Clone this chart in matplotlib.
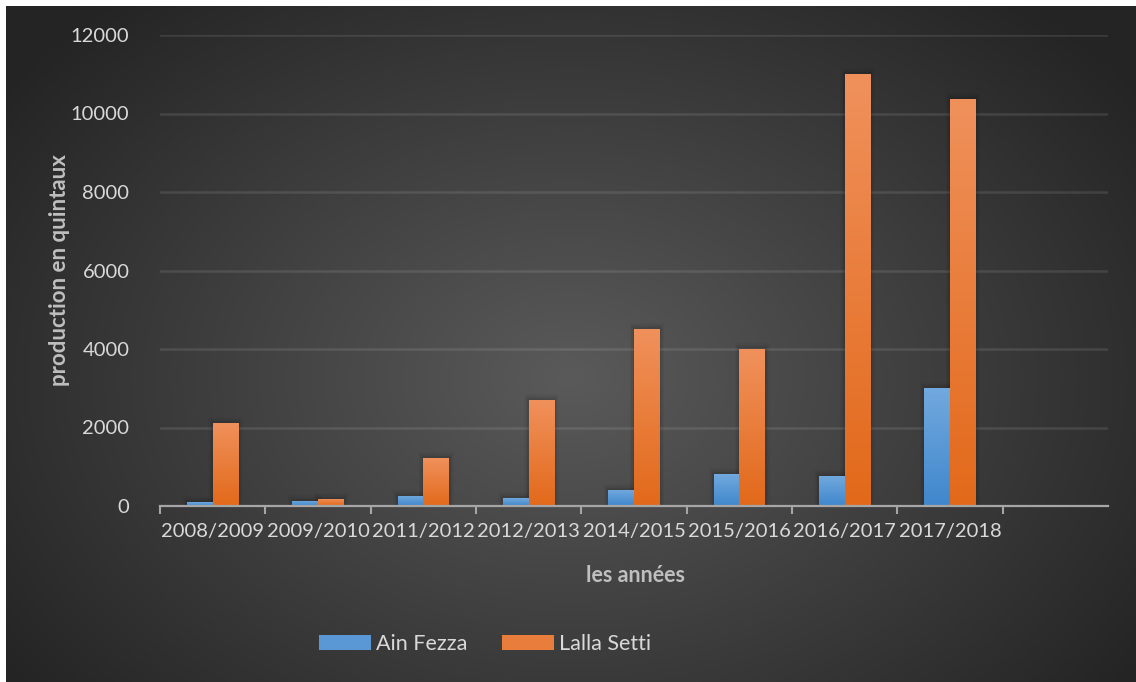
import matplotlib
matplotlib.use('Agg')
import matplotlib.pyplot as plt
import numpy as np
from matplotlib.colors import LinearSegmentedColormap
from matplotlib.patches import Rectangle

plt.rcParams['font.family'] = ['Lato', 'DejaVu Sans']

years = ['2008/2009', '2009/2010', '2011/2012', '2012/2013', '2014/2015',
         '2015/2016', '2016/2017', '2017/2018']
ain_fezza = [100, 130, 255, 200, 410, 815, 765, 3000]
lalla_setti = [2120, 180, 1220, 2700, 4510, 4000, 11000, 10370]
series_names = ['Ain Fezza', 'Lalla Setti']
yticks = [0, 2000, 4000, 6000, 8000, 10000, 12000]

W, H = 1136, 682
fig = plt.figure(figsize=(W / 100, H / 100), dpi=100, facecolor='white')

# radial-ish dark background
bg = fig.add_axes([6 / W, 0, 1 - 6 / W, 1 - 6 / H])
bg.set_axis_off()
yy, xx = np.mgrid[0:1:300j, 0:1:500j]
r = np.sqrt(((xx - 0.5) / 0.62) ** 2 + ((yy - 0.55) / 0.75) ** 2)
shade = np.clip(1 - r, 0, 1)
bg_cmap = LinearSegmentedColormap.from_list('bg', ['#242424', '#5a5a5a'])
bg.imshow(shade, cmap=bg_cmap, aspect='auto', extent=[0, 1, 0, 1],
          vmin=0, vmax=1, interpolation='bilinear')
bg.set_xlim(0, 1)
bg.set_ylim(0, 1)

ax = fig.add_axes([160 / W, 1 - 506 / H, (1108 - 160) / W, (506 - 35) / H])
ax.patch.set_alpha(0)

blue_cm = LinearSegmentedColormap.from_list('b', ['#3f87cc', '#72a9de'])
orange_cm = LinearSegmentedColormap.from_list('o', ['#e2691a', '#f0915c'])
grad = np.linspace(0, 1, 256).reshape(-1, 1)

w = 0.245
x = np.arange(len(years))
for vals, off, cm, name in [(ain_fezza, -w / 2, blue_cm, series_names[0]),
                            (lalla_setti, w / 2, orange_cm, series_names[1])]:
    bars = ax.bar(x + off, vals, width=w, color=cm(0.6), label=name, zorder=3)
    for b in bars:
        bx, by = b.get_x(), b.get_height()
        # soft shadow
        for k, a in enumerate([0.08, 0.05, 0.03]):
            d = 0.014 * (k + 1)
            ax.add_patch(Rectangle((bx - d, 0), w + 2 * d, by + 50 * (k + 1),
                                   facecolor='black', alpha=a, lw=0, zorder=2))
        im = ax.imshow(grad, cmap=cm, origin='lower', aspect='auto',
                       extent=[bx, bx + w, 0, by], zorder=3.5)
        im.set_clip_path(b)
ax.set_xlim(-0.5, 8.5)
ax.set_ylim(0, 12000)

ax.set_yticks(yticks)
ax.set_yticklabels([str(v) for v in yticks])
ax.yaxis.grid(True, color='white', alpha=0.1, lw=1.8, zorder=0)
ax.set_axisbelow(True)

ax.set_xticks(np.arange(9) - 0.5, minor=False)
ax.set_xticklabels([])
ax.set_xticks(x, minor=True)
ax.set_xticklabels(years, minor=True)
ax.tick_params(axis='x', which='major', length=6, width=1.5, color='#a6a6a6',
               direction='out')
ax.tick_params(axis='x', which='minor', length=0, pad=12, labelsize=14.5,
               labelcolor='#d9d9d9')
ax.tick_params(axis='y', length=0, pad=22, labelsize=14.5, labelcolor='#d9d9d9')

for s in ['top', 'right', 'left']:
    ax.spines[s].set_visible(False)
ax.spines['bottom'].set_color('#a6a6a6')
ax.spines['bottom'].set_linewidth(1.6)
ax.spines['bottom'].set_zorder(5)

fig.text(60 / W, 1 - 270 / H, 'production en quintaux', rotation=90,
         ha='center', va='center', fontsize=16, fontweight='bold', color='#bfbfbf')
fig.text(635 / W, 1 - 576 / H, 'les années', ha='center', va='center',
         fontsize=15.5, fontweight='bold', color='#bfbfbf')

handles = [Rectangle((0, 0), 1, 1, facecolor=blue_cm(0.5)),
           Rectangle((0, 0), 1, 1, facecolor=orange_cm(0.5))]
leg = fig.legend(handles, series_names, loc='center', bbox_to_anchor=(485 / W, 1 - 644 / H),
                 ncol=2, frameon=False, fontsize=15.5, handlelength=2.4,
                 handleheight=0.7, handletextpad=0.25, columnspacing=1.6,
                 labelcolor='#d9d9d9')

fig.savefig('out.png', dpi=100, facecolor='white')
